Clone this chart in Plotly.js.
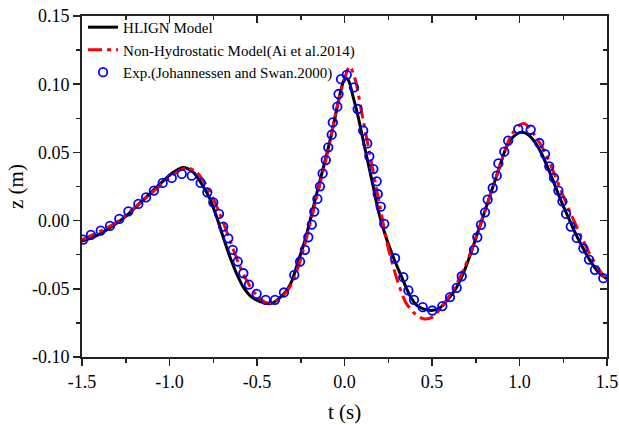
<!DOCTYPE html>
<html>
<head>
<meta charset="utf-8">
<script src="https://cdn.plot.ly/plotly-3.0.1.min.js"></script>
<style>html,body{margin:0;padding:0;background:#fff;}#chart{width:619px;height:425px;}</style>
</head>
<body>
<div id="chart"></div>
<script>
// HLIGN model (black solid)
const hlignT = [-1.5, -1.435, -1.34, -1.245, -1.15, -1.054, -0.978, -0.923, -0.864, -0.816, -0.769, -0.730, -0.693, -0.654, -0.616, -0.578, -0.530, -0.454, -0.420, -0.387, -0.330, -0.300, -0.264, -0.226, -0.197, -0.169, -0.140, -0.111, -0.083, -0.054, -0.026, 0.003, 0.022, 0.050, 0.079, 0.107, 0.136, 0.165, 0.193, 0.231, 0.279, 0.327, 0.374, 0.413, 0.450, 0.498, 0.546, 0.594, 0.641, 0.689, 0.727, 0.765, 0.803, 0.841, 0.879, 0.917, 0.946, 0.984, 1.013, 1.050, 1.089, 1.127, 1.165, 1.203, 1.241, 1.279, 1.317, 1.355, 1.403, 1.450, 1.5];
const hlignZ = [-0.0150, -0.0122, -0.0053, 0.0037, 0.0151, 0.0269, 0.0354, 0.0390, 0.0354, 0.0269, 0.0159, 0.0024, -0.0122, -0.0269, -0.0390, -0.0488, -0.0561, -0.0605, -0.0608, -0.0585, -0.0512, -0.0440, -0.0296, -0.0146, 0.0000, 0.0146, 0.0293, 0.0439, 0.0586, 0.0756, 0.0928, 0.1045, 0.1030, 0.0903, 0.0756, 0.0586, 0.0415, 0.0244, 0.0073, -0.0098, -0.0269, -0.0415, -0.0550, -0.0622, -0.0647, -0.0659, -0.0639, -0.0573, -0.0488, -0.0354, -0.0220, -0.0073, 0.0073, 0.0220, 0.0366, 0.0512, 0.0586, 0.0635, 0.0647, 0.0630, 0.0573, 0.0488, 0.0378, 0.0256, 0.0134, 0.0024, -0.0086, -0.0183, -0.0293, -0.0378, -0.0427];

// Non-hydrostatic model (red dash-dot)
const nhT = [-1.5, -1.4, -1.3, -1.2, -1.1, -1.0, -0.95, -0.9, -0.85, -0.8, -0.75, -0.7, -0.65, -0.6, -0.55, -0.5, -0.45, -0.4, -0.35, -0.3, -0.25, -0.2, -0.15, -0.1, -0.05, 0.0, 0.03, 0.06, 0.1, 0.15, 0.2, 0.25, 0.3, 0.35, 0.4, 0.45, 0.5, 0.55, 0.6, 0.65, 0.7, 0.75, 0.8, 0.85, 0.9, 0.95, 1.0, 1.03, 1.1, 1.15, 1.2, 1.25, 1.3, 1.35, 1.4, 1.45, 1.5];
const nhZ = [-0.0140, -0.0080, -0.0010, 0.0095, 0.0205, 0.0315, 0.0362, 0.0385, 0.0360, 0.0280, 0.0160, 0.0010, -0.0160, -0.0330, -0.0460, -0.0550, -0.0600, -0.0600, -0.0550, -0.0460, -0.0280, -0.0040, 0.0220, 0.0480, 0.0790, 0.1040, 0.1130, 0.1040, 0.0780, 0.0450, 0.0120, -0.0200, -0.0430, -0.0600, -0.0680, -0.0720, -0.0710, -0.0640, -0.0550, -0.0440, -0.0300, -0.0130, 0.0060, 0.0250, 0.0450, 0.0620, 0.0700, 0.0710, 0.0600, 0.0490, 0.0340, 0.0180, 0.0030, -0.0110, -0.0240, -0.0350, -0.0440];

// Experiment (blue open circles)
const expT = [-1.493,-1.449,-1.393,-1.340,-1.287,-1.235,-1.178,-1.134,-1.089,-1.039,
 -0.987,-0.930,-0.873,-0.822,-0.784,-0.750,-0.717,-0.693,-0.664,-0.639,
 -0.610,-0.578,-0.546,-0.502,-0.450,-0.397,-0.346,-0.287,-0.254,-0.226,
 -0.207,-0.187,-0.173,-0.155,-0.140,-0.125,-0.107,-0.093,-0.073,-0.067,
 -0.041,-0.034,-0.020,0.013,0.054,0.075,0.107,0.130,0.142,0.165,
 0.184,0.190,0.207,0.227,0.289,0.336,0.365,0.397,0.447,0.502,
 0.559,0.603,0.641,0.670,0.740,0.759,0.780,0.803,0.818,0.847,
 0.870,0.879,0.913,0.935,0.993,1.064,1.113,1.146,1.170,1.197,
 1.222,1.245,1.266,1.293,1.327,1.365,1.397,1.431,1.479];
const expZ = [-0.0139,-0.0105,-0.0073,-0.0039,0.0012,0.0068,0.0122,0.0171,0.0220,0.0276,
 0.0313,0.0342,0.0329,0.0276,0.0207,0.0134,0.0049,-0.0044,-0.0130,-0.0214,
 -0.0300,-0.0386,-0.0469,-0.0537,-0.0581,-0.0581,-0.0527,-0.0398,-0.0300,-0.0214,
 -0.0122,-0.0029,0.0066,0.0159,0.0251,0.0346,0.0444,0.0537,0.0630,0.0720,
 0.0835,0.0928,0.1037,0.1069,0.0976,0.0818,0.0659,0.0566,0.0471,0.0378,
 0.0288,0.0195,0.0102,-0.0024,-0.0276,-0.0415,-0.0512,-0.0581,-0.0635,-0.0659,
 -0.0627,-0.0561,-0.0493,-0.0408,-0.0214,-0.0122,-0.0031,0.0061,0.0154,0.0239,
 0.0329,0.0419,0.0505,0.0586,0.0671,0.0666,0.0569,0.0488,0.0398,0.0313,
 0.0220,0.0141,0.0049,-0.0044,-0.0127,-0.0203,-0.0286,-0.0361,-0.0422];

const xTickVals = [-1.5, -1.0, -0.5, 0.0, 0.5, 1.0, 1.5];
const xTickText = ["-1.5", "-1.0", "-0.5", "0.0", "0.5", "1.0", "1.5"];
const yTickVals = [-0.10, -0.05, 0.00, 0.05, 0.10, 0.15];
const yTickText = ["-0.10", "-0.05", "0.00", "0.05", "0.10", "0.15"];

const names = ["HLIGN Model", "Non-Hydrostatic Model(Ai et al.2014)", "Exp.(Johannessen and Swan.2000)"];

const FONT = "Liberation Serif";
const AX = "#222";

const traces = [
  {x: hlignT, y: hlignZ, name: names[0], mode: "lines",
   line: {color: "#000", width: 3, shape: "spline", smoothing: 0.8}},
  {x: nhT, y: nhZ, name: names[1], mode: "lines",
   line: {color: "#ff0000", width: 3, dash: "14px,5px,4px,5px", shape: "spline", smoothing: 0.8}},
  {x: expT, y: expZ, name: names[2], mode: "markers",
   marker: {symbol: "circle-open", size: 8.5, color: "#0000ff", line: {width: 1.8, color: "#0000ff"}}},
  {x: [], y: [], xaxis: "x2", yaxis: "y2", showlegend: false, hoverinfo: "skip", mode: "lines"}
];

const layout = {
  width: 619, height: 425,
  margin: {l: 82, r: 12, t: 15, b: 68},
  paper_bgcolor: "#fff", plot_bgcolor: "#fff",
  font: {family: FONT, color: "#000"},
  showlegend: true,
  legend: {x: 0.002, y: 1.012, xanchor: "left", yanchor: "top", bgcolor: "rgba(0,0,0,0)",
           font: {family: FONT, size: 15, color: "#000"}, tracegroupgap: 0},
  xaxis: {
    range: [-1.5, 1.5], tickvals: xTickVals, ticktext: xTickText,
    showgrid: false, zeroline: false, showline: true, linecolor: AX, linewidth: 2,
    ticks: "outside", ticklen: 7, tickwidth: 1.5, tickcolor: AX,
    minor: {dtick: 0.25, ticks: "outside", ticklen: 4, tickwidth: 1.5, tickcolor: AX, showgrid: false},
    tickfont: {family: FONT, size: 18, color: "#000"},
    title: {text: "t (s)", font: {family: FONT, size: 21, color: "#000"}, standoff: 14}
  },
  yaxis: {
    range: [-0.10, 0.15], tickvals: yTickVals, ticktext: yTickText,
    showgrid: false, zeroline: false, showline: true, linecolor: AX, linewidth: 2,
    ticks: "outside", ticklen: 7, tickwidth: 1.5, tickcolor: AX,
    minor: {dtick: 0.025, ticks: "outside", ticklen: 4, tickwidth: 1.5, tickcolor: AX, showgrid: false},
    tickfont: {family: FONT, size: 18, color: "#000"},
    title: {text: "z (m)", font: {family: FONT, size: 21, color: "#000"}, standoff: 3}
  },
  xaxis2: {
    overlaying: "x", side: "top", anchor: "y2", range: [-1.5, 1.5], tickvals: xTickVals,
    showticklabels: false, showgrid: false, zeroline: false, showline: true, linecolor: AX, linewidth: 2,
    ticks: "inside", ticklen: 7, tickwidth: 1.5, tickcolor: AX,
    minor: {dtick: 0.25, ticks: "inside", ticklen: 4, tickwidth: 1.5, tickcolor: AX, showgrid: false}
  },
  yaxis2: {
    overlaying: "y", side: "right", anchor: "x2", range: [-0.10, 0.15], tickvals: yTickVals,
    showticklabels: false, showgrid: false, zeroline: false, showline: true, linecolor: AX, linewidth: 2,
    ticks: "inside", ticklen: 7, tickwidth: 1.5, tickcolor: AX,
    minor: {dtick: 0.025, ticks: "inside", ticklen: 4, tickwidth: 1.5, tickcolor: AX, showgrid: false}
  }
};

Plotly.newPlot("chart", traces, layout, {displayModeBar: false, staticPlot: true});
</script>
</body>
</html>
